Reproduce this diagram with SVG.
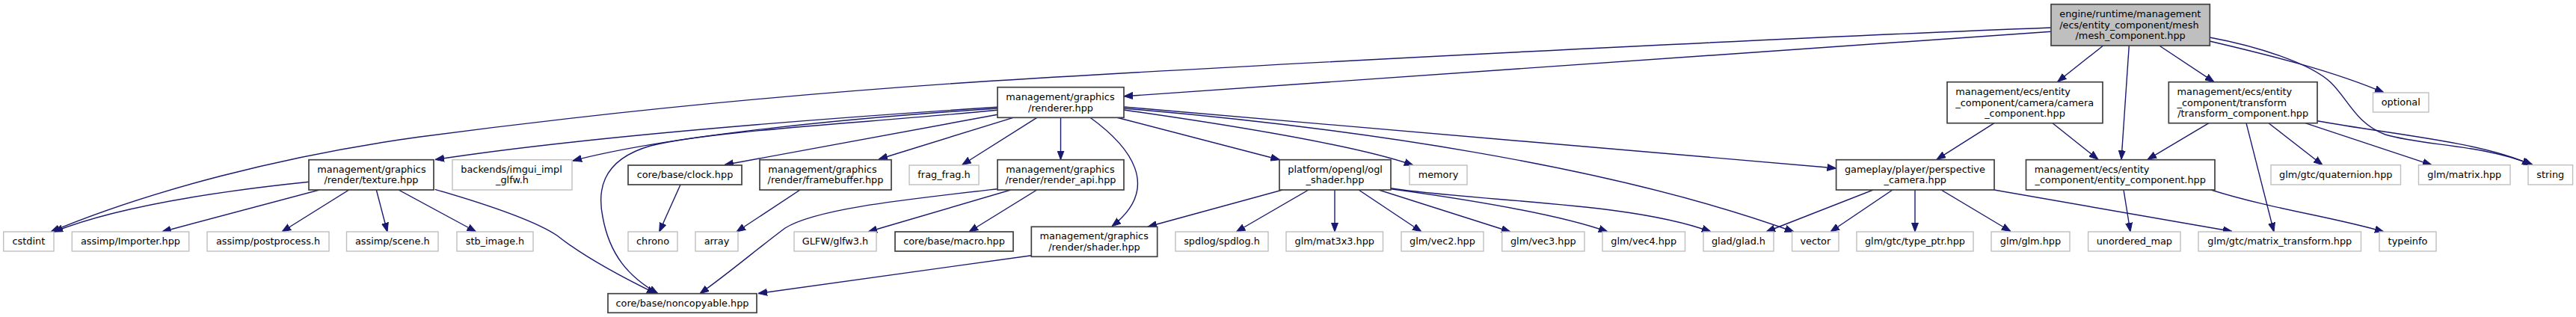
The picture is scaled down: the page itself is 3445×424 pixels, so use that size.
<svg xmlns="http://www.w3.org/2000/svg" width="3445" height="424" viewBox="0 0 3445 424">
<style>
text{font-family:"DejaVu Sans","Liberation Sans",sans-serif;font-size:12.85px;fill:#000}
.m{text-anchor:middle}
.doc rect{fill:#fff;stroke:#404040;stroke-width:1.7}
.ext rect{fill:#fff;stroke:#bfbfbf;stroke-width:1.4}
.root rect{fill:#bfbfbf;stroke:#404040;stroke-width:1.7}
.e path{fill:none;stroke:#191970;stroke-width:1.4;marker-end:url(#a)}
</style>
<defs>
<marker id="a" markerUnits="userSpaceOnUse" markerWidth="12" markerHeight="10" viewBox="0 0 12 10" refX="12" refY="5" orient="auto"><path d="M0,0.5 L12,5 L0,9.5 z" fill="#191970" stroke="#191970" stroke-width="1"/></marker>
</defs>
<rect width="3445" height="424" fill="#fff"/>
<g id="edges" class="e">
<path d="M2743,42.3 L1503,128.8"/>
<path d="M2743,37 C2400,50 1700,85 1300,110 C1000,130 750,158 560,183.3 C380,208 200,255 68,310"/>
<path d="M2812.7,61 L2751.7,109.3"/>
<path d="M2847.3,61 L2837,213.3"/>
<path d="M2887.7,61 L2961,109.7"/>
<path d="M2955,55 C3040,75 3120,95 3188,123.8"/>
<path d="M2955,50 C3020,62 3090,85 3116.7,110 C3140,132 3150,165 3190,180 C3240,195 3320,193 3387,220.5"/>
<path d="M3099,161.7 C3200,180 3320,190 3385,220.5"/>
<path d="M2954,164.7 L2872,213.3"/>
<path d="M3004,164.7 L3041,310"/>
<path d="M3034,164.7 L3106,220.7"/>
<path d="M3083,164.7 L3252,220.7"/>
<path d="M2667,164.7 L2590,213.3"/>
<path d="M2745,164.7 L2806,213.3"/>
<path d="M2840,254 L2849,310"/>
<path d="M2957,254 C3040,280 3120,290 3188,310"/>
<path d="M2505,254 L2362,310"/>
<path d="M2531,254 L2448,310"/>
<path d="M2561,254 L2561,310"/>
<path d="M2596,254 L2689,309.5"/>
<path d="M2667,254 L2985,309.5"/>
<path d="M1334,143.3 C1150,155 800,180 582,213.5"/>
<path d="M1334,145 C1150,157 900,180 766,215"/>
<path d="M1334,147.3 C1150,165 950,175 870,195 C800,215 800,260 806,290 C815,340 840,370 880,392.7"/>
<path d="M1334,153.3 L969,220.5"/>
<path d="M1355,157.3 L1175,213"/>
<path d="M1386.7,157.3 L1286.7,220.5"/>
<path d="M1418.5,157.3 L1418.5,213.7"/>
<path d="M1458,157.3 C1510,195 1555,250 1487,302.7"/>
<path d="M1494,157.3 L1711.5,213.7"/>
<path d="M1503,147 C1700,175 1830,200 1890,221"/>
<path d="M1503,145 C1800,170 2150,220 2399,310"/>
<path d="M1503,143 L2455.6,225"/>
<path d="M413.3,243.3 C300,255 160,275 72,310"/>
<path d="M427,254 L216.7,310"/>
<path d="M466.7,254 L377,310"/>
<path d="M503.3,254 L518,310"/>
<path d="M533,254 L636.7,310"/>
<path d="M581.7,253.3 C650,273 715,295 745,315 C770,335 810,360 877,392.7"/>
<path d="M910,247 L881.7,310"/>
<path d="M1070,254 L985,310"/>
<path d="M1334,252.7 C1200,268 1090,280 1050,305 C1010,335 975,365 936,392.7"/>
<path d="M1351.7,254 L1161,310"/>
<path d="M1386.7,254 L1296,310"/>
<path d="M1379.3,341.7 L1014,392.5"/>
<path d="M1715,254 L1535,303.3"/>
<path d="M1750,254 L1653.3,310"/>
<path d="M1785,254 L1785,310"/>
<path d="M1817,254 L1901,310"/>
<path d="M1844,254 L2020,310"/>
<path d="M1860,252.7 C1950,265 2080,285 2150,310"/>
<path d="M1860,251.7 C1980,270 2180,270 2288,310"/>
</g>
<g id="n_mesh_component" class="root"><rect x="2743" y="5.7" width="212.3" height="55.3"/><text x="2754.3" y="23.1">engine/runtime/management</text><text x="2754.3" y="37.6">/ecs/entity_component/mesh</text><text class="m" x="2849.15" y="52.1">/mesh_component.hpp</text></g>
<g id="n_renderer" class="doc"><rect x="1334" y="116.7" width="169" height="40.6"/><text x="1345.3" y="134.05">management/graphics</text><text class="m" x="1418.5" y="148.55">/renderer.hpp</text></g>
<g id="n_camera_component" class="doc"><rect x="2604" y="109.7" width="208" height="55"/><text x="2615.3" y="127">management/ecs/entity</text><text x="2615.3" y="141.5">_component/camera/camera</text><text class="m" x="2708" y="156">_component.hpp</text></g>
<g id="n_transform_component" class="doc"><rect x="2900.3" y="109.7" width="198.7" height="55"/><text x="2911.6" y="127">management/ecs/entity</text><text x="2911.6" y="141.5">_component/transform</text><text class="m" x="2999.65" y="156">/transform_component.hpp</text></g>
<g id="n_optional" class="ext"><rect x="3173.5" y="124" width="74.5" height="26"/><text class="m" x="3210.75" y="141.3">optional</text></g>
<g id="n_texture" class="doc"><rect x="413" y="213.7" width="167" height="40.3"/><text x="424.3" y="230.9">management/graphics</text><text class="m" x="496.5" y="245.4">/render/texture.hpp</text></g>
<g id="n_imgui_glfw" class="ext"><rect x="605" y="213.7" width="160" height="40.3"/><text x="616.3" y="230.9">backends/imgui_impl</text><text class="m" x="685" y="245.4">_glfw.h</text></g>
<g id="n_clock" class="doc"><rect x="840" y="221" width="152" height="26"/><text class="m" x="916" y="238.3">core/base/clock.hpp</text></g>
<g id="n_framebuffer" class="doc"><rect x="1016" y="213.7" width="176" height="40.3"/><text x="1027.3" y="230.9">management/graphics</text><text class="m" x="1104" y="245.4">/render/framebuffer.hpp</text></g>
<g id="n_frag_frag" class="ext"><rect x="1216" y="221" width="93" height="26"/><text class="m" x="1262.5" y="238.3">frag_frag.h</text></g>
<g id="n_render_api" class="doc"><rect x="1334" y="213.7" width="169" height="40.3"/><text x="1345.3" y="230.9">management/graphics</text><text class="m" x="1418.5" y="245.4">/render/render_api.hpp</text></g>
<g id="n_ogl_shader" class="doc"><rect x="1711" y="213.7" width="149" height="40.3"/><text x="1722.3" y="230.9">platform/opengl/ogl</text><text class="m" x="1785.5" y="245.4">_shader.hpp</text></g>
<g id="n_memory" class="ext"><rect x="1885" y="221" width="77" height="26"/><text class="m" x="1923.5" y="238.3">memory</text></g>
<g id="n_perspective_camera" class="doc"><rect x="2455.6" y="213.7" width="211.4" height="40.3"/><text x="2466.9" y="230.9">gameplay/player/perspective</text><text class="m" x="2561.3" y="245.4">_camera.hpp</text></g>
<g id="n_entity_component" class="doc"><rect x="2709.5" y="213.7" width="252.5" height="40.3"/><text x="2720.8" y="230.9">management/ecs/entity</text><text class="m" x="2835.75" y="245.4">_component/entity_component.hpp</text></g>
<g id="n_quaternion" class="ext"><rect x="3037" y="220.7" width="173.5" height="26.3"/><text class="m" x="3123.75" y="238.3">glm/gtc/quaternion.hpp</text></g>
<g id="n_matrix" class="ext"><rect x="3234.5" y="220.7" width="122.5" height="26.3"/><text class="m" x="3295.75" y="238.3">glm/matrix.hpp</text></g>
<g id="n_string" class="ext"><rect x="3381" y="220.7" width="59.6" height="26.3"/><text class="m" x="3410.8" y="238.3">string</text></g>
<g id="n_cstdint" class="ext"><rect x="4.7" y="310" width="67.3" height="26"/><text class="m" x="38.35" y="327.3">cstdint</text></g>
<g id="n_importer" class="ext"><rect x="96.3" y="310" width="156.4" height="26"/><text class="m" x="174.5" y="327.3">assimp/Importer.hpp</text></g>
<g id="n_postprocess" class="ext"><rect x="277" y="310" width="163" height="26"/><text class="m" x="358.5" y="327.3">assimp/postprocess.h</text></g>
<g id="n_scene" class="ext"><rect x="463.5" y="310" width="122.5" height="26"/><text class="m" x="524.75" y="327.3">assimp/scene.h</text></g>
<g id="n_stb_image" class="ext"><rect x="611" y="310" width="102" height="26"/><text class="m" x="662" y="327.3">stb_image.h</text></g>
<g id="n_chrono" class="ext"><rect x="840" y="310" width="66" height="26"/><text class="m" x="873" y="327.3">chrono</text></g>
<g id="n_array" class="ext"><rect x="930" y="310" width="57" height="26"/><text class="m" x="958.5" y="327.3">array</text></g>
<g id="n_glfw3" class="ext"><rect x="1062" y="310" width="110" height="26"/><text class="m" x="1117" y="327.3">GLFW/glfw3.h</text></g>
<g id="n_macro" class="doc"><rect x="1197" y="310" width="158" height="26"/><text class="m" x="1276" y="327.3">core/base/macro.hpp</text></g>
<g id="n_shader" class="doc"><rect x="1379.3" y="303.3" width="168.4" height="40"/><text x="1390.6" y="320.35">management/graphics</text><text class="m" x="1463.5" y="334.85">/render/shader.hpp</text></g>
<g id="n_spdlog" class="ext"><rect x="1572" y="310" width="124" height="26"/><text class="m" x="1634" y="327.3">spdlog/spdlog.h</text></g>
<g id="n_mat3x3" class="ext"><rect x="1720" y="310" width="129.5" height="26"/><text class="m" x="1784.75" y="327.3">glm/mat3x3.hpp</text></g>
<g id="n_vec2" class="ext"><rect x="1874" y="310" width="110" height="26"/><text class="m" x="1929" y="327.3">glm/vec2.hpp</text></g>
<g id="n_vec3" class="ext"><rect x="2008.7" y="310" width="110.3" height="26"/><text class="m" x="2063.85" y="327.3">glm/vec3.hpp</text></g>
<g id="n_vec4" class="ext"><rect x="2143" y="310" width="110.5" height="26"/><text class="m" x="2198.25" y="327.3">glm/vec4.hpp</text></g>
<g id="n_glad" class="ext"><rect x="2278" y="310" width="94" height="26"/><text class="m" x="2325" y="327.3">glad/glad.h</text></g>
<g id="n_vector" class="ext"><rect x="2396.6" y="310" width="62.4" height="26"/><text class="m" x="2427.8" y="327.3">vector</text></g>
<g id="n_type_ptr" class="ext"><rect x="2483" y="310" width="156" height="26"/><text class="m" x="2561" y="327.3">glm/gtc/type_ptr.hpp</text></g>
<g id="n_glm" class="ext"><rect x="2663" y="310" width="105" height="26"/><text class="m" x="2715.5" y="327.3">glm/glm.hpp</text></g>
<g id="n_unordered_map" class="ext"><rect x="2792.6" y="310" width="123.4" height="26"/><text class="m" x="2854.3" y="327.3">unordered_map</text></g>
<g id="n_matrix_transform" class="ext"><rect x="2940" y="310" width="217.5" height="26"/><text class="m" x="3048.75" y="327.3">glm/gtc/matrix_transform.hpp</text></g>
<g id="n_typeinfo" class="ext"><rect x="3182" y="310" width="76" height="26"/><text class="m" x="3220" y="327.3">typeinfo</text></g>
<g id="n_noncopyable" class="doc"><rect x="813" y="392.7" width="199" height="25.6"/><text class="m" x="912.5" y="409.8">core/base/noncopyable.hpp</text></g>
</svg>
